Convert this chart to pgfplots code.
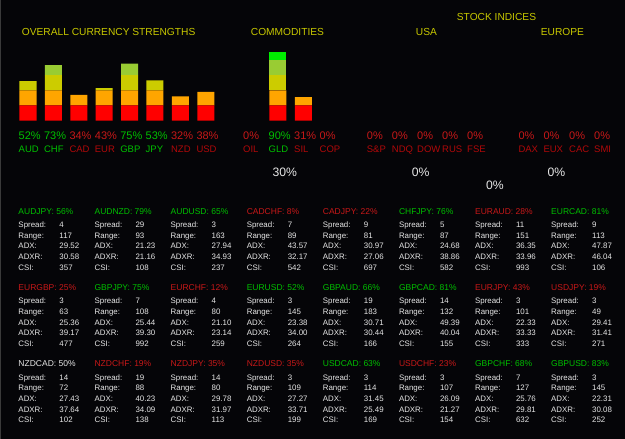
\documentclass[border=0pt]{standalone}
\usepackage{pgfplots}
\pgfplotsset{compat=1.18}
\usepackage{fontspec}
\setmainfont{Liberation Sans}
\definecolor{bg}{HTML}{050508}
\definecolor{frame}{HTML}{3A3A3A}
\definecolor{ttl}{HTML}{C8C800}
\definecolor{gtxt}{HTML}{00C000}
\definecolor{rtxt}{HTML}{C81818}
\definecolor{rlab}{HTML}{B00808}
\definecolor{wtxt}{HTML}{E6E6E6}
\definecolor{b1}{HTML}{FF0000}
\definecolor{b2}{HTML}{FFA500}
\definecolor{b3}{HTML}{CCCC00}
\definecolor{b4}{HTML}{99CC33}
\definecolor{b5}{HTML}{00EE00}
\pgfplotsset{barax/.style={scale only axis, anchor=south west, height=76pt,
  ymin=0, ymax=100, hide axis, ybar stacked, bar width=17pt, clip=false}}
\begin{document}
\begin{tikzpicture}[x=1pt,y=1pt]
\fill[bg] (0,0) rectangle (625,439);
\fill[frame] (0,0) rectangle (1.2,439);
% titles
\tikzset{t/.style={anchor=base west, inner sep=0, text=ttl, font=\fontsize{10.2}{12}\selectfont}}
\node[t] at (21.7,403.3) {OVERALL CURRENCY STRENGTHS};
\node[t] at (250.7,403.3) {COMMODITIES};
\node[t] at (456.7,418.3) {STOCK INDICES};
\node[t] at (415.7,403.3) {USA};
\node[t] at (540.7,403.3) {EUROPE};
% currency bars: segments 0-20 red, 20-40 orange, 40-60 yellow, 60-80 light green, 80-100 green
\begin{axis}[barax, at={(15.3pt,318.3pt)}, width=203.2pt, xmin=-0.5, xmax=7.5]
\addplot[fill=b1, draw=none] coordinates {(0,20) (1,20) (2,20) (3,20) (4,20) (5,20) (6,20) (7,20)};
\addplot[fill=b2, draw=none] coordinates {(0,20) (1,20) (2,14) (3,20) (4,20) (5,20) (6,12) (7,18)};
\addplot[fill=b3, draw=none] coordinates {(0,12) (1,20) (2,0) (3,3) (4,20) (5,13) (6,0) (7,0)};
\addplot[fill=b4, draw=none] coordinates {(0,0) (1,13) (2,0) (3,0) (4,15) (5,0) (6,0) (7,0)};
\addplot[fill=b5, draw=none] coordinates {(0,0) (1,0) (2,0) (3,0) (4,0) (5,0) (6,0) (7,0)};
\end{axis}
% commodity bars
\begin{axis}[barax, at={(239.8pt,318.3pt)}, width=101.6pt, xmin=-0.5, xmax=3.5]
\addplot[fill=b1, draw=none] coordinates {(0,0) (1,20) (2,20) (3,0)};
\addplot[fill=b2, draw=none] coordinates {(0,0) (1,20) (2,11) (3,0)};
\addplot[fill=b3, draw=none] coordinates {(0,0) (1,20) (2,0) (3,0)};
\addplot[fill=b4, draw=none] coordinates {(0,0) (1,20) (2,0) (3,0)};
\addplot[fill=b5, draw=none] coordinates {(0,0) (1,10) (2,0) (3,0)};
\end{axis}
% percentages and labels under the bars
\tikzset{pc/.style={anchor=base west, inner sep=0, font=\fontsize{11}{12}\selectfont},
         lb/.style={anchor=base west, inner sep=0, font=\fontsize{9.5}{11}\selectfont}}
\foreach \x/\p/\n in {18.5/52/AUD, 43.9/73/CHF, 69.3/34/CAD, 94.7/43/EUR, 120.1/75/GBP, 145.5/53/JPY, 170.9/32/NZD, 196.3/38/USD,
  243/0/OIL, 268.5/90/GLD, 294/31/SIL, 319.5/0/COP,
  366.7/0/S\&P, 391.7/0/NDQ, 417/0/DOW, 442/0/RUS, 467/0/FSE,
  518.3/0/DAX, 543.3/0/EUX, 569/0/CAC, 594/0/SMI}{
  \ifnum\p>50 \def\cc{gtxt}\def\cl{gtxt}\else\def\cc{rtxt}\def\cl{rlab}\fi
  \node[pc, text=\cc] at (\x,299) {\p\%};
  \node[lb, text=\cl] at (\x,286.7) {\n};
}
% summary values
\tikzset{sm/.style={anchor=base west, inner sep=0, text=wtxt, font=\fontsize{12.2}{14}\selectfont}}
\node[sm] at (272.3,262.3) {30\%};
\node[sm] at (411.7,262.3) {0\%};
\node[sm] at (486,249) {0\%};
\node[sm] at (547.3,262.3) {0\%};
% pair statistics
\tikzset{hd/.style={anchor=base west, inner sep=0, font=\fontsize{8.5}{10}\selectfont},
         st/.style={anchor=base west, inner sep=0, text=wtxt, font=\fontsize{7.9}{9}\selectfont}}
\foreach \i/\b/\n/\p/\s/\r/\a/\ar/\c in {
 0/0/AUDJPY/56/4/117/29.52/30.58/357, 1/0/AUDNZD/79/29/93/21.23/21.16/108,
 2/0/AUDUSD/65/3/163/27.94/34.93/237, 3/0/CADCHF/8/7/89/43.57/32.17/542,
 4/0/CADJPY/22/9/81/30.97/27.06/697, 5/0/CHFJPY/76/5/87/24.68/38.86/582,
 6/0/EURAUD/28/11/151/36.35/33.96/993, 7/0/EURCAD/81/9/113/47.87/46.04/106,
 0/1/EURGBP/25/3/63/25.36/39.17/477, 1/1/GBPJPY/75/7/108/25.44/39.30/992,
 2/1/EURCHF/12/4/80/21.10/23.14/259, 3/1/EURUSD/52/3/145/23.38/34.00/264,
 4/1/GBPAUD/66/19/183/30.71/30.44/166, 5/1/GBPCAD/81/14/132/49.39/40.04/155,
 6/1/EURJPY/43/3/101/22.33/33.33/333, 7/1/USDJPY/19/3/49/29.41/31.41/271,
 0/2/NZDCAD/50/14/72/27.43/37.64/102, 1/2/NZDCHF/19/19/88/40.23/34.09/138,
 2/2/NZDJPY/35/14/80/29.78/31.97/113, 3/2/NZDUSD/35/3/109/27.27/33.71/199,
 4/2/USDCAD/63/3/114/31.45/25.49/169, 5/2/USDCHF/23/3/107/26.09/21.27/154,
 6/2/GBPCHF/68/7/127/25.76/29.81/632, 7/2/GBPUSD/83/3/145/22.31/30.08/252}{
  \ifnum\p>50 \def\cc{gtxt}\else\ifnum\p<50 \def\cc{rtxt}\else\def\cc{wtxt}\fi\fi
  \pgfmathsetmacro{\xa}{18.3+76.1*\i}
  \pgfmathsetmacro{\xb}{\xa+41}
  \pgfmathsetmacro{\yh}{439-214.3-76.3*\b}
  \node[hd, text=\cc] at (\xa,\yh) {\n: \p\%};
  \node[st] at (\xa,\yh-13.4) {Spread:};  \node[st] at (\xb,\yh-13.4) {\s};
  \node[st] at (\xa,\yh-24.1) {Range:};   \node[st] at (\xb,\yh-24.1) {\r};
  \node[st] at (\xa,\yh-34.7) {ADX:};     \node[st] at (\xb,\yh-34.7) {\a};
  \node[st] at (\xa,\yh-45.4) {ADXR:};    \node[st] at (\xb,\yh-45.4) {\ar};
  \node[st] at (\xa,\yh-56.0) {CSI:};     \node[st] at (\xb,\yh-56.0) {\c};
}
\pgfresetboundingbox
\path[use as bounding box] (0,0) rectangle (625,439);
\end{tikzpicture}
\end{document}
